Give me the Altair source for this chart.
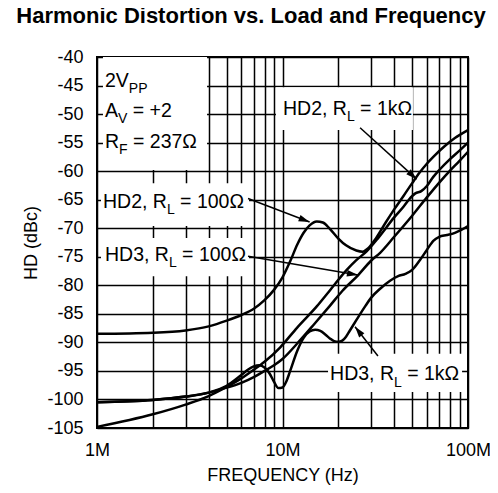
import math
import altair as alt
import pandas as pd

MHZ = 1e6

# ---------------- curve data (frequency in MHz, distortion in dBc) ----------------
f_hd2_100 = [1, 2, 3, 4, 5, 6, 7, 8, 9, 10, 11, 12, 13, 14, 15.3, 16.5, 18, 20, 22, 25,
             27, 29, 32, 36, 40, 45, 50, 55, 60, 65, 75, 85, 100]
hd2_100 = [-88.5, -88.3, -87.9, -87.2, -86.2, -85.2, -84.1, -82.6, -80.8, -78.6,
           -75.8, -72.9, -70.8, -69.5, -68.8, -69.0, -70.1, -71.8, -73.0, -73.9,
           -74.1, -73.5, -71.7, -69.0, -66.7, -64.3, -62.1, -60.2, -58.7, -57.5,
           -55.6, -54.2, -52.8]

f_hd2_1k = [1, 2, 3, 4, 4.8, 6, 7, 8, 9.7, 12, 15.3, 18, 22.2, 25, 28.5, 33, 40, 45,
            48, 52, 56, 60, 65, 70, 80, 90, 100]
hd2_1k = [-104.8, -102.6, -100.9, -99.4, -98.1, -96.3, -94.8, -93.4, -90.9, -87.4,
          -83.7, -80.9, -77.3, -75.6, -74.0, -71.6, -68.1, -66.2, -65.0, -63.9,
          -63.5, -62.6, -61.0, -59.8, -57.9, -56.4, -55.0]

f_hd3_100 = [1, 2, 3, 4, 4.8, 6, 7, 8, 9, 10, 12, 15, 18, 21, 25.6, 30, 33.6, 40, 50,
             60, 70, 80, 90, 100]
hd3_100 = [-100.5, -100.1, -99.5, -98.8, -98.1, -97.1, -96.1, -95.0, -94.0, -92.9,
           -90.2, -86.6, -83.6, -81.0, -78.2, -75.7, -74.3, -71.5, -67.8, -64.6,
           -62.0, -59.9, -58.2, -56.6]

f_hd3_1k = [1, 2, 3, 4, 5, 6, 6.5, 7, 7.5, 8, 8.5, 9, 9.5, 10, 10.5, 11, 12, 13, 14, 15,
            16, 17, 18, 19, 20, 21, 22, 23, 25, 28, 30, 33.6, 38, 42, 46, 50, 55, 60,
            65, 70, 77, 85, 92, 100]
hd3_1k = [-100.5, -100.1, -99.5, -98.8, -97.6, -95.7, -94.8, -94.2, -94.0, -94.4,
          -95.4, -96.9, -98.0, -97.9, -96.8, -95.0, -91.5, -89.2, -88.1, -87.8,
          -88.0, -88.6, -89.3, -89.8, -89.9, -89.7, -89.0, -88.0, -86.1, -83.6,
          -82.2, -80.6, -79.2, -78.4, -78.0, -77.3, -75.6, -73.8, -72.2, -71.5,
          -71.2, -70.8, -70.3, -69.6]

# ---------------- axes ----------------
x_domain = [1e6, 1e8]
y_domain = [-105, -40]
x_grid_values = [m * 10 ** e for e in (6, 7) for m in range(1, 10)] + [10 ** 8]
x_label_values = [10 ** 6, 10 ** 7, 10 ** 8]
x_tick_labels = ["1M", "10M", "100M"]
y_tick_values = list(range(-105, -39, 5))
y_tick_labels = ["-105", "-100", "-95", "-90", "-85", "-80", "-75", "-70", "-65",
                 "-60", "-55", "-50", "-45", "-40"]

TITLE = "Harmonic Distortion vs. Load and Frequency"

# ---------------- annotations ----------------
# white boxes behind the labels (MHz, dBc)
box_x0 = [1.077, 9.22, 1.051, 1.051, 17.6]
box_x1 = [3.92, 50.5, 6.6, 6.6, 92.9]
box_top = [-40.0, -45.3, -62.1, -71.7, -92.0]
box_bottom = [-59.8, -52.8, -69.6, -78.4, -98.7]

# label rows: start frequency (MHz), baseline (dBc), pieces (text, is_subscript)
label_x = [1.104, 1.104, 1.104, 10.06, 1.077, 1.104, 18.05]
label_y = [-45.2, -50.46, -55.9, -50.1, -66.4, -75.7, -96.6]
label_pieces = [
    [("2V", 0), ("PP", 1)],
    [("A", 0), ("V", 1), (" = +2", 0)],
    [("R", 0), ("F", 1), (" = 237Ω", 0)],
    [("HD2, R", 0), ("L", 1), (" = 1kΩ", 0)],
    [("HD2, R", 0), ("L", 1), (" = 100Ω", 0)],
    [("HD3, R", 0), ("L", 1), (" = 100Ω", 0)],
    [("HD3, R", 0), ("L", 1), (" = 1kΩ", 0)],
]

# arrows: tail -> tip (MHz, dBc)
arrow_x0 = [6.52, 6.52, 26.2, 32.7]
arrow_y0 = [-64.8, -74.9, -52.4, -92.4]
arrow_x1 = [14.0, 25.5, 52.9, 24.6]
arrow_y1 = [-68.9, -78.2, -61.4, -87.25]

# ---------------- layout / style ----------------
W, H = 371, 371
PX_PER_DEC = W / (math.log10(x_domain[1]) - math.log10(x_domain[0]))
PX_PER_DB = H / (y_domain[1] - y_domain[0])
FONT = "Liberation Sans"
MAIN_SIZE = 19.5
SUB_SIZE = 14
SUB_DROP_PX = 6.5

ARIAL_W = {' ': 278, ',': 278, '=': 584, '+': 584, '0': 556, '1': 556, '2': 556,
           '3': 556, '7': 556, 'A': 667, 'D': 722, 'F': 611, 'H': 722, 'L': 556,
           'P': 667, 'R': 722, 'V': 667, 'k': 500, 'Ω': 768}


def text_width(s, size):
    return sum(ARIAL_W.get(c, 556) for c in s) / 1000.0 * size


# ---------------- tables ----------------
rows = []
for name, fs, hs in [("HD2 100", f_hd2_100, hd2_100), ("HD2 1k", f_hd2_1k, hd2_1k),
                     ("HD3 100", f_hd3_100, hd3_100), ("HD3 1k", f_hd3_1k, hd3_1k)]:
    for i, (f, h) in enumerate(zip(fs, hs)):
        rows.append({"series": name, "freq": f * MHZ, "hd": h, "order": i})
curves = pd.DataFrame(rows)

boxes = pd.DataFrame({"x0": [v * MHZ for v in box_x0], "x1": [v * MHZ for v in box_x1],
                      "y0": box_top, "y1": box_bottom})

trows = []
for lx, ly, pieces in zip(label_x, label_y, label_pieces):
    offset = 0.0
    for txt, sub in pieces:
        size = SUB_SIZE if sub else MAIN_SIZE
        stripped = txt.lstrip(" ")
        offset += text_width(txt[: len(txt) - len(stripped)], size)
        trows.append({
            "text": stripped,
            "freq": lx * MHZ * 10 ** (offset / PX_PER_DEC),
            "hd": ly - (SUB_DROP_PX / PX_PER_DB if sub else 0.0),
            "size": size,
        })
        offset += text_width(stripped, size)
texts = pd.DataFrame(trows)

arows = []
for a, b, c, d in zip(arrow_x0, arrow_y0, arrow_x1, arrow_y1):
    dx = (math.log10(c) - math.log10(a)) * PX_PER_DEC
    dy = -(d - b) * PX_PER_DB
    ang = math.degrees(math.atan2(dy, dx)) % 360
    arows.append({"x0": a * MHZ, "y0": b, "x1": c * MHZ, "y1": d, "angle": ang})
arrows = pd.DataFrame(arows)


def expr_from(values, labels):
    expr = "''"
    for v, l in zip(reversed(values), reversed(labels)):
        expr = f"datum.value == {v} ? '{l}' : ({expr})"
    return expr


xscale = alt.Scale(type="log", domain=x_domain, nice=False)
yscale = alt.Scale(domain=y_domain, nice=False, zero=False)
xaxis = alt.Axis(title="FREQUENCY (Hz)", values=x_grid_values,
                 labelExpr=expr_from(x_label_values, x_tick_labels),
                 labelPadding=13, titlePadding=7, labelOverlap=False, labelFlush=False)
yaxis = alt.Axis(title="HD (dBc)", values=y_tick_values,
                 labelExpr=expr_from(y_tick_values, y_tick_labels),
                 labelPadding=14, titlePadding=6, labelFlush=False, labelOverlap=False)


def X(field):
    return alt.X(f"{field}:Q", scale=xscale, axis=xaxis)


def Y(field):
    return alt.Y(f"{field}:Q", scale=yscale, axis=yaxis)


rect_layer = alt.Chart(boxes).mark_rect(color="white", strokeWidth=0).encode(
    x=X("x0"), x2="x1", y=Y("y0"), y2="y1")

text_layer = alt.Chart(texts).mark_text(
    align="left", baseline="alphabetic", font=FONT, color="black").encode(
    x=X("freq"), y=Y("hd"), text="text:N", size=alt.Size("size:Q", scale=None))

line_layer = alt.Chart(curves).mark_line(
    color="black", strokeWidth=2.5, interpolate="monotone").encode(
    x=X("freq"), y=Y("hd"), detail="series:N", order="order:Q")

rule_layer = alt.Chart(arrows).mark_rule(color="black", strokeWidth=1.5).encode(
    x=X("x0"), y=Y("y0"), x2="x1", y2="y1")

head_layer = alt.Chart(arrows).mark_point(
    shape="M0,0L-1,-0.3L-1,0.3Z", filled=True, color="black", opacity=1,
    strokeWidth=0).encode(
    x=X("x1"), y=Y("y1"), angle=alt.Angle("angle:Q", scale=None), size=alt.value(484))

# chart heading, placed above the plot area (outside the data frame)
title_layer = alt.Chart(pd.DataFrame({"t": [TITLE]})).mark_text(
    font=FONT, fontSize=22, fontWeight="bold", color="black", align="center",
    baseline="alphabetic").encode(
    x=alt.value(154), y=alt.value(-34), text="t:N")

chart = alt.layer(rect_layer, text_layer, line_layer, rule_layer, head_layer,
                  title_layer).properties(
    width=W, height=H,
    autosize=alt.AutoSizeParams(type="none"),
    padding={"left": 89, "top": 49, "right": 22, "bottom": 57},
    background="white",
).configure_view(stroke="black", strokeWidth=2).configure_axis(
    labelFont=FONT, labelFontSize=18, labelColor="black",
    titleFont=FONT, titleFontSize=18, titleFontWeight="normal", titleColor="black",
    grid=True, gridColor="black", gridWidth=1.5, gridOpacity=1,
    ticks=False, domain=False,
)

chart.save("out.html", embed_options={"renderer": "svg", "actions": False})
